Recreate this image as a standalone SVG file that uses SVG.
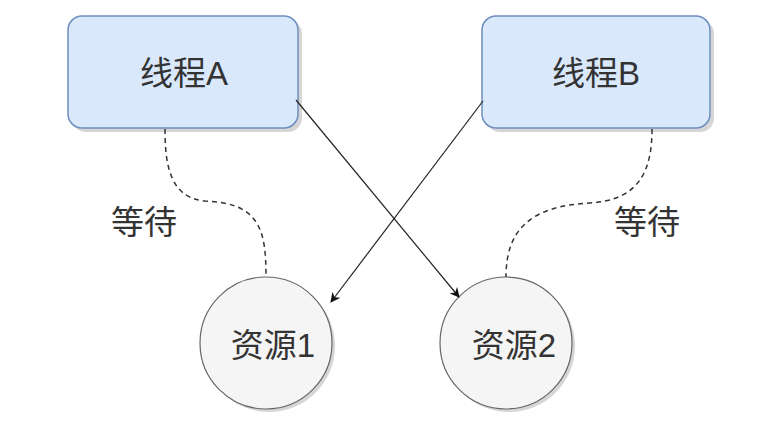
<svg xmlns="http://www.w3.org/2000/svg" width="776" height="432" viewBox="0 0 776 432">
<defs>
<style>
.box{fill:#dae8fc;stroke:#6c8ebf;stroke-width:1.5}
.res{fill:#f5f5f5;stroke:#666666;stroke-width:1.2}
.shadow{fill:#999999;opacity:0.4}
.t{font-family:"Liberation Sans","Noto Sans CJK SC",sans-serif;font-size:33px;fill:#333333;text-anchor:middle;dominant-baseline:central}
.dash{fill:none;stroke:#333333;stroke-width:1.5;stroke-dasharray:5 4}
.arr{fill:none;stroke:#222222;stroke-width:1.2;marker-end:url(#ah)}
</style>
<marker id="ah" viewBox="0 0 10 10" refX="9" refY="5" markerWidth="10" markerHeight="10" markerUnits="userSpaceOnUse" orient="auto">
<path d="M0,0 L10,5 L0,10 L3,5 Z" fill="#111111"/>
</marker>
</defs>
<rect width="776" height="432" fill="#ffffff"/>
<g id="threadA">
<rect class="shadow" x="72" y="20" width="230" height="112" rx="14"/>
<rect class="box" x="68" y="16" width="230" height="112" rx="14"/>
<text class="t" x="184" y="73">线程A</text>
</g>
<g id="threadB">
<rect class="shadow" x="486" y="20" width="228" height="112" rx="14"/>
<rect class="box" x="482" y="16" width="228" height="112" rx="14"/>
<text class="t" x="596" y="73">线程B</text>
</g>
<g id="res1">
<circle class="shadow" cx="269" cy="346" r="66"/>
<circle class="res" cx="266" cy="343" r="66"/>
<text class="t" x="273" y="345">资源1</text>
</g>
<g id="res2">
<circle class="shadow" cx="509" cy="346" r="66"/>
<circle class="res" cx="506" cy="343" r="66"/>
<text class="t" x="514" y="345">资源2</text>
</g>
<g id="connectors">
<path class="dash" d="M165,129 C165,165 170,198 205,201 C260,203 266,230 266,277"/>
<path class="dash" d="M652,129 C652,170 640,200 590,203 C530,206 506,230 506,277"/>
<path class="arr" d="M296,100 L459,297"/>
<path class="arr" d="M483,101 L331,302"/>
<text class="t" x="144" y="222">等待</text>
<text class="t" x="647" y="222">等待</text>
</g>
</svg>
